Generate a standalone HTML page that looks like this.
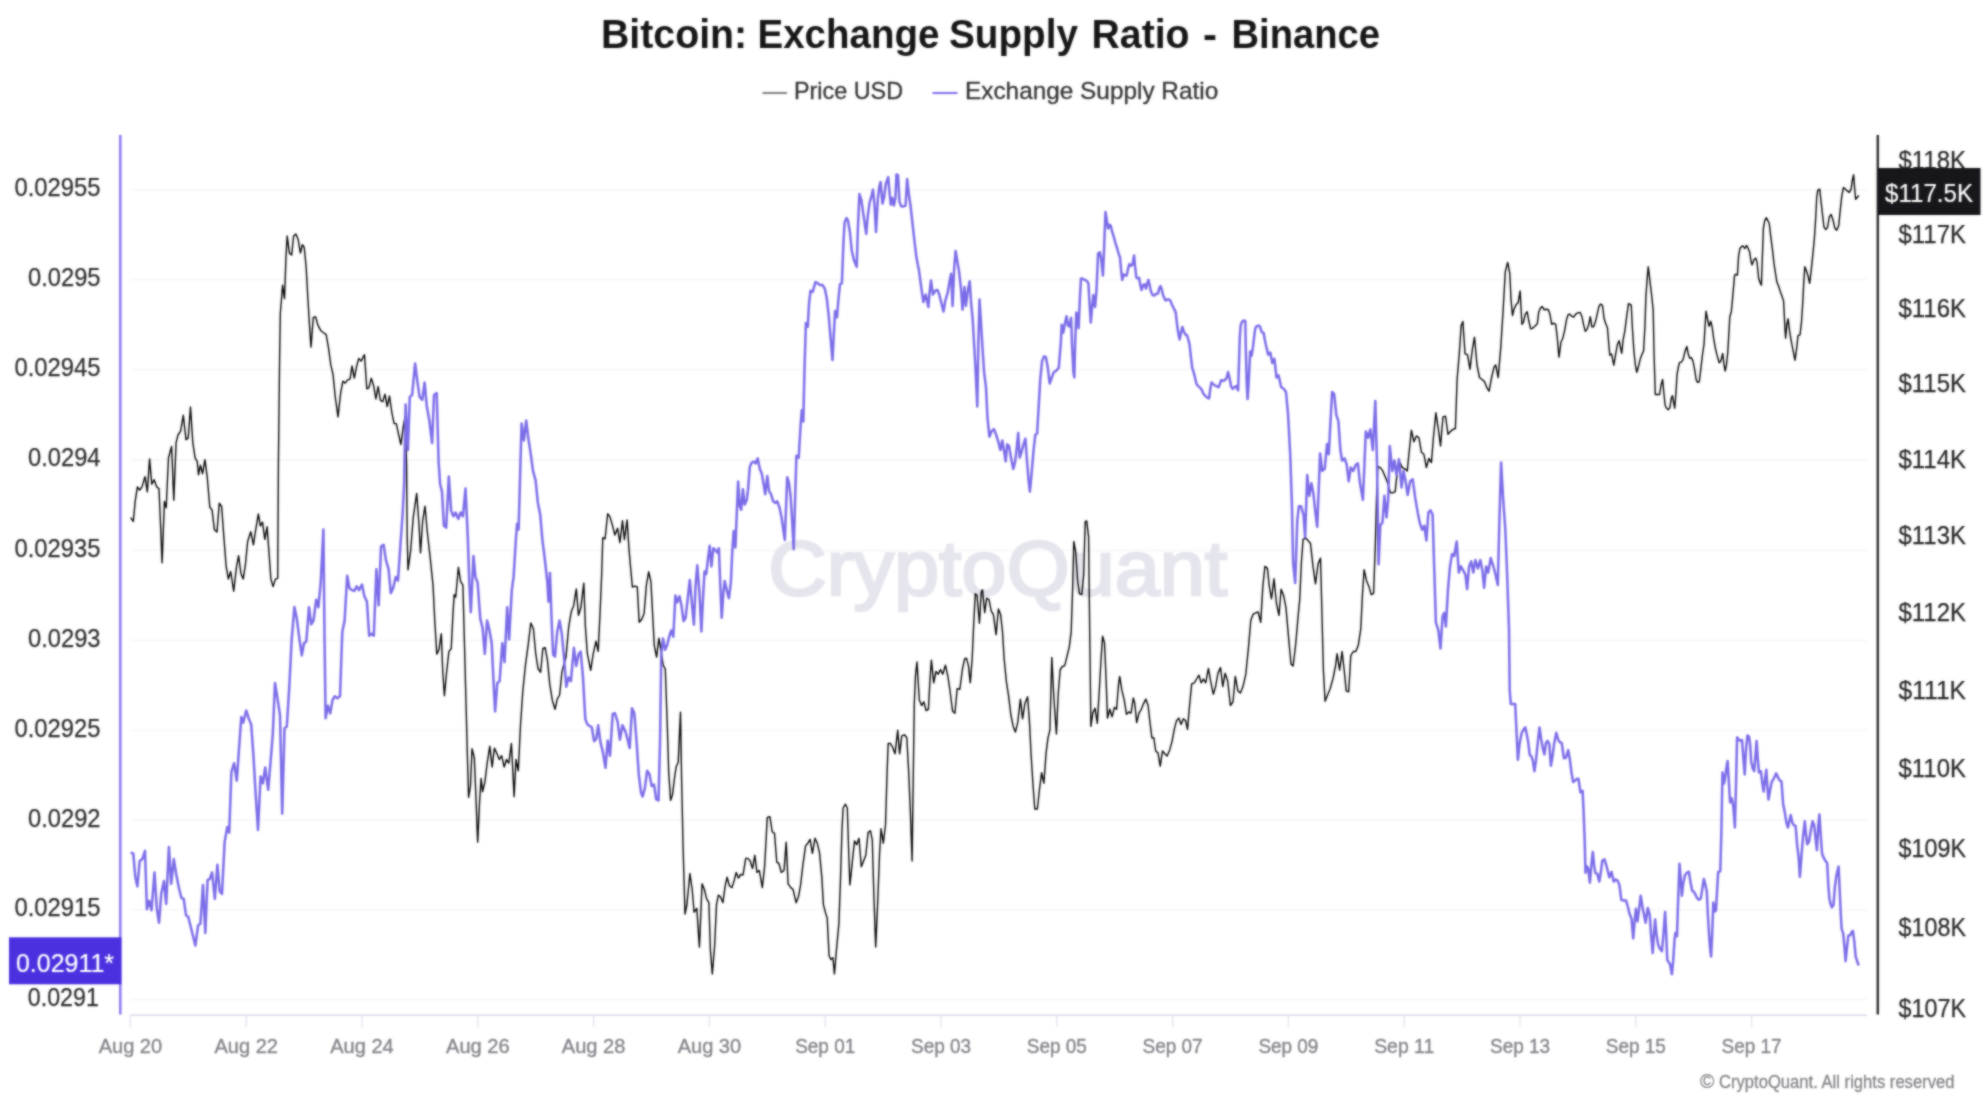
<!DOCTYPE html>
<html><head><meta charset="utf-8"><title>Bitcoin: Exchange Supply Ratio - Binance</title>
<style>
html,body{margin:0;padding:0;background:#fff;}
body{width:1986px;height:1108px;overflow:hidden;font-family:"Liberation Sans",sans-serif;}
svg{display:block;position:absolute;left:0;top:0;}
text{font-family:"Liberation Sans",sans-serif;}
</style></head><body>
<svg width="1986" height="1108" viewBox="0 0 1986 1108">
<defs><filter id="soft" filterUnits="userSpaceOnUse" x="0" y="0" width="1986" height="1108" color-interpolation-filters="sRGB"><feGaussianBlur stdDeviation="0.9" result="b"/><feComposite in="SourceGraphic" in2="b" operator="arithmetic" k1="0" k2="0.3" k3="0.7" k4="0"/></filter></defs>
<rect width="1986" height="1108" fill="#fff"/>
<g filter="url(#soft)">
<rect width="1986" height="1108" fill="#fff"/>

<text x="601.0" y="48.1" font-size="40.6" font-weight="bold" fill="#161616" textLength="146.2" lengthAdjust="spacingAndGlyphs">Bitcoin:</text>
<text x="757.5" y="48.1" font-size="40.6" font-weight="bold" fill="#161616" textLength="182.0" lengthAdjust="spacingAndGlyphs">Exchange</text>
<text x="949.0" y="48.1" font-size="40.6" font-weight="bold" fill="#161616" textLength="129.0" lengthAdjust="spacingAndGlyphs">Supply</text>
<text x="1091.5" y="48.1" font-size="40.6" font-weight="bold" fill="#161616" textLength="98.1" lengthAdjust="spacingAndGlyphs">Ratio</text>
<text x="1203.0" y="48.1" font-size="40.6" font-weight="bold" fill="#161616" textLength="14.0" lengthAdjust="spacingAndGlyphs">-</text>
<text x="1231.5" y="48.1" font-size="40.6" font-weight="bold" fill="#161616" textLength="148.6" lengthAdjust="spacingAndGlyphs">Binance</text>
<line x1="762.5" y1="93" x2="787" y2="93" stroke="#555" stroke-width="1.5"/>
<text x="794" y="99.1" font-size="24.5" fill="#333" stroke="#333" stroke-width="0.3" textLength="109" lengthAdjust="spacingAndGlyphs">Price USD</text>
<line x1="932.5" y1="93" x2="957.5" y2="93" stroke="#7b6cf0" stroke-width="2"/>
<text x="965" y="99.1" font-size="24.5" fill="#333" stroke="#333" stroke-width="0.3" textLength="253.2" lengthAdjust="spacingAndGlyphs">Exchange Supply Ratio</text>
<line x1="130" y1="189.7" x2="1867" y2="189.7" stroke="#f5f5f7" stroke-width="1.4"/>
<line x1="130" y1="279.6" x2="1867" y2="279.6" stroke="#f5f5f7" stroke-width="1.4"/>
<line x1="130" y1="369.6" x2="1867" y2="369.6" stroke="#f5f5f7" stroke-width="1.4"/>
<line x1="130" y1="460.0" x2="1867" y2="460.0" stroke="#f5f5f7" stroke-width="1.4"/>
<line x1="130" y1="550.4" x2="1867" y2="550.4" stroke="#f5f5f7" stroke-width="1.4"/>
<line x1="130" y1="640.4" x2="1867" y2="640.4" stroke="#f5f5f7" stroke-width="1.4"/>
<line x1="130" y1="730.4" x2="1867" y2="730.4" stroke="#f5f5f7" stroke-width="1.4"/>
<line x1="130" y1="820.3" x2="1867" y2="820.3" stroke="#f5f5f7" stroke-width="1.4"/>
<line x1="130" y1="909.9" x2="1867" y2="909.9" stroke="#f5f5f7" stroke-width="1.4"/>
<line x1="130" y1="999.6" x2="1867" y2="999.6" stroke="#f5f5f7" stroke-width="1.4"/>
<text x="997.7" y="594.5" font-size="77" fill="#e5e5ed" stroke="#e5e5ed" stroke-width="2.6" text-anchor="middle" textLength="459" lengthAdjust="spacingAndGlyphs">CryptoQuant</text>
<line x1="130" y1="1015.3" x2="1867" y2="1015.3" stroke="#d9d8ee" stroke-width="1.6"/>
<line x1="130.4" y1="1015" x2="130.4" y2="1027" stroke="#e2e2ee" stroke-width="1.3"/>
<text x="130.4" y="1052.6" font-size="21" fill="#85858c" stroke="#85858c" stroke-width="0.4" text-anchor="middle" textLength="63.5" lengthAdjust="spacingAndGlyphs">Aug 20</text>
<line x1="246.2" y1="1015" x2="246.2" y2="1027" stroke="#e2e2ee" stroke-width="1.3"/>
<text x="246.2" y="1052.6" font-size="21" fill="#85858c" stroke="#85858c" stroke-width="0.4" text-anchor="middle" textLength="63.5" lengthAdjust="spacingAndGlyphs">Aug 22</text>
<line x1="362.0" y1="1015" x2="362.0" y2="1027" stroke="#e2e2ee" stroke-width="1.3"/>
<text x="362.0" y="1052.6" font-size="21" fill="#85858c" stroke="#85858c" stroke-width="0.4" text-anchor="middle" textLength="63.5" lengthAdjust="spacingAndGlyphs">Aug 24</text>
<line x1="477.8" y1="1015" x2="477.8" y2="1027" stroke="#e2e2ee" stroke-width="1.3"/>
<text x="477.8" y="1052.6" font-size="21" fill="#85858c" stroke="#85858c" stroke-width="0.4" text-anchor="middle" textLength="63.5" lengthAdjust="spacingAndGlyphs">Aug 26</text>
<line x1="593.6" y1="1015" x2="593.6" y2="1027" stroke="#e2e2ee" stroke-width="1.3"/>
<text x="593.6" y="1052.6" font-size="21" fill="#85858c" stroke="#85858c" stroke-width="0.4" text-anchor="middle" textLength="63.5" lengthAdjust="spacingAndGlyphs">Aug 28</text>
<line x1="709.4" y1="1015" x2="709.4" y2="1027" stroke="#e2e2ee" stroke-width="1.3"/>
<text x="709.4" y="1052.6" font-size="21" fill="#85858c" stroke="#85858c" stroke-width="0.4" text-anchor="middle" textLength="63.5" lengthAdjust="spacingAndGlyphs">Aug 30</text>
<line x1="825.2" y1="1015" x2="825.2" y2="1027" stroke="#e2e2ee" stroke-width="1.3"/>
<text x="825.2" y="1052.6" font-size="21" fill="#85858c" stroke="#85858c" stroke-width="0.4" text-anchor="middle" textLength="60" lengthAdjust="spacingAndGlyphs">Sep 01</text>
<line x1="941.0" y1="1015" x2="941.0" y2="1027" stroke="#e2e2ee" stroke-width="1.3"/>
<text x="941.0" y="1052.6" font-size="21" fill="#85858c" stroke="#85858c" stroke-width="0.4" text-anchor="middle" textLength="60" lengthAdjust="spacingAndGlyphs">Sep 03</text>
<line x1="1056.8" y1="1015" x2="1056.8" y2="1027" stroke="#e2e2ee" stroke-width="1.3"/>
<text x="1056.8" y="1052.6" font-size="21" fill="#85858c" stroke="#85858c" stroke-width="0.4" text-anchor="middle" textLength="60" lengthAdjust="spacingAndGlyphs">Sep 05</text>
<line x1="1172.6" y1="1015" x2="1172.6" y2="1027" stroke="#e2e2ee" stroke-width="1.3"/>
<text x="1172.6" y="1052.6" font-size="21" fill="#85858c" stroke="#85858c" stroke-width="0.4" text-anchor="middle" textLength="60" lengthAdjust="spacingAndGlyphs">Sep 07</text>
<line x1="1288.4" y1="1015" x2="1288.4" y2="1027" stroke="#e2e2ee" stroke-width="1.3"/>
<text x="1288.4" y="1052.6" font-size="21" fill="#85858c" stroke="#85858c" stroke-width="0.4" text-anchor="middle" textLength="60" lengthAdjust="spacingAndGlyphs">Sep 09</text>
<line x1="1404.2" y1="1015" x2="1404.2" y2="1027" stroke="#e2e2ee" stroke-width="1.3"/>
<text x="1404.2" y="1052.6" font-size="21" fill="#85858c" stroke="#85858c" stroke-width="0.4" text-anchor="middle" textLength="60" lengthAdjust="spacingAndGlyphs">Sep 11</text>
<line x1="1520.0" y1="1015" x2="1520.0" y2="1027" stroke="#e2e2ee" stroke-width="1.3"/>
<text x="1520.0" y="1052.6" font-size="21" fill="#85858c" stroke="#85858c" stroke-width="0.4" text-anchor="middle" textLength="60" lengthAdjust="spacingAndGlyphs">Sep 13</text>
<line x1="1635.8" y1="1015" x2="1635.8" y2="1027" stroke="#e2e2ee" stroke-width="1.3"/>
<text x="1635.8" y="1052.6" font-size="21" fill="#85858c" stroke="#85858c" stroke-width="0.4" text-anchor="middle" textLength="60" lengthAdjust="spacingAndGlyphs">Sep 15</text>
<line x1="1751.6" y1="1015" x2="1751.6" y2="1027" stroke="#e2e2ee" stroke-width="1.3"/>
<text x="1751.6" y="1052.6" font-size="21" fill="#85858c" stroke="#85858c" stroke-width="0.4" text-anchor="middle" textLength="60" lengthAdjust="spacingAndGlyphs">Sep 17</text>
<text x="100.5" y="195.9" font-size="26.2" fill="#2e2e2e" stroke="#2e2e2e" stroke-width="0.25" text-anchor="end" textLength="86" lengthAdjust="spacingAndGlyphs">0.02955</text>
<text x="100.5" y="285.8" font-size="26.2" fill="#2e2e2e" stroke="#2e2e2e" stroke-width="0.25" text-anchor="end" textLength="72.5" lengthAdjust="spacingAndGlyphs">0.0295</text>
<text x="100.5" y="375.8" font-size="26.2" fill="#2e2e2e" stroke="#2e2e2e" stroke-width="0.25" text-anchor="end" textLength="86" lengthAdjust="spacingAndGlyphs">0.02945</text>
<text x="100.5" y="466.2" font-size="26.2" fill="#2e2e2e" stroke="#2e2e2e" stroke-width="0.25" text-anchor="end" textLength="72.5" lengthAdjust="spacingAndGlyphs">0.0294</text>
<text x="100.5" y="556.6" font-size="26.2" fill="#2e2e2e" stroke="#2e2e2e" stroke-width="0.25" text-anchor="end" textLength="86" lengthAdjust="spacingAndGlyphs">0.02935</text>
<text x="100.5" y="646.7" font-size="26.2" fill="#2e2e2e" stroke="#2e2e2e" stroke-width="0.25" text-anchor="end" textLength="72.5" lengthAdjust="spacingAndGlyphs">0.0293</text>
<text x="100.5" y="736.7" font-size="26.2" fill="#2e2e2e" stroke="#2e2e2e" stroke-width="0.25" text-anchor="end" textLength="86" lengthAdjust="spacingAndGlyphs">0.02925</text>
<text x="100.5" y="826.6" font-size="26.2" fill="#2e2e2e" stroke="#2e2e2e" stroke-width="0.25" text-anchor="end" textLength="72.5" lengthAdjust="spacingAndGlyphs">0.0292</text>
<text x="100.5" y="916.2" font-size="26.2" fill="#2e2e2e" stroke="#2e2e2e" stroke-width="0.25" text-anchor="end" textLength="86" lengthAdjust="spacingAndGlyphs">0.02915</text>
<text x="98.8" y="1005.9" font-size="26.2" fill="#2e2e2e" stroke="#2e2e2e" stroke-width="0.25" text-anchor="end" textLength="71" lengthAdjust="spacingAndGlyphs">0.0291</text>
<text x="1898.5" y="168.7" font-size="25.5" fill="#282828" stroke="#282828" stroke-width="0.25" textLength="67.5" lengthAdjust="spacingAndGlyphs">$118K</text>
<text x="1898.5" y="242.5" font-size="25.5" fill="#282828" stroke="#282828" stroke-width="0.25" textLength="67.5" lengthAdjust="spacingAndGlyphs">$117K</text>
<text x="1898.5" y="316.9" font-size="25.5" fill="#282828" stroke="#282828" stroke-width="0.25" textLength="67.5" lengthAdjust="spacingAndGlyphs">$116K</text>
<text x="1898.5" y="391.9" font-size="25.5" fill="#282828" stroke="#282828" stroke-width="0.25" textLength="67.5" lengthAdjust="spacingAndGlyphs">$115K</text>
<text x="1898.5" y="467.7" font-size="25.5" fill="#282828" stroke="#282828" stroke-width="0.25" textLength="67.5" lengthAdjust="spacingAndGlyphs">$114K</text>
<text x="1898.5" y="544.0" font-size="25.5" fill="#282828" stroke="#282828" stroke-width="0.25" textLength="67.5" lengthAdjust="spacingAndGlyphs">$113K</text>
<text x="1898.5" y="621.1" font-size="25.5" fill="#282828" stroke="#282828" stroke-width="0.25" textLength="67.5" lengthAdjust="spacingAndGlyphs">$112K</text>
<text x="1898.5" y="698.8" font-size="25.5" fill="#282828" stroke="#282828" stroke-width="0.25" textLength="67.5" lengthAdjust="spacingAndGlyphs">$111K</text>
<text x="1898.5" y="777.3" font-size="25.5" fill="#282828" stroke="#282828" stroke-width="0.25" textLength="67.5" lengthAdjust="spacingAndGlyphs">$110K</text>
<text x="1898.5" y="856.5" font-size="25.5" fill="#282828" stroke="#282828" stroke-width="0.25" textLength="67.5" lengthAdjust="spacingAndGlyphs">$109K</text>
<text x="1898.5" y="936.4" font-size="25.5" fill="#282828" stroke="#282828" stroke-width="0.25" textLength="67.5" lengthAdjust="spacingAndGlyphs">$108K</text>
<text x="1898.5" y="1017.0" font-size="25.5" fill="#282828" stroke="#282828" stroke-width="0.25" textLength="67.5" lengthAdjust="spacingAndGlyphs">$107K</text>
<line x1="120.3" y1="135" x2="120.3" y2="1014.5" stroke="#8b7df2" stroke-width="2.6"/>
<line x1="1877.8" y1="135" x2="1877.8" y2="1014.5" stroke="#2a2a2e" stroke-width="2.4"/>
<path d="M130.6 517.7 L133.3 521.4 L135.2 501.4 L137.4 486.9 L139.7 490.0 L142.0 486.9 L145.0 476.7 L147.3 491.9 L149.6 458.9 L151.8 484.3 L154.1 479.7 L156.8 486.9 L159.0 488.8 L160.6 526.0 L162.1 562.8 L164.4 501.4 L166.2 507.8 L168.5 457.8 L171.6 446.4 L173.8 500.2 L176.1 442.6 L178.0 435.0 L180.6 431.2 L183.3 415.3 L186.0 439.6 L188.2 438.1 L190.5 407.0 L192.8 442.6 L195.1 457.8 L197.3 461.6 L198.5 474.8 L200.4 465.3 L202.6 473.7 L204.9 459.7 L207.2 476.7 L209.8 507.0 L212.1 510.1 L214.4 529.8 L217.0 532.1 L219.3 503.2 L221.6 506.3 L223.9 537.4 L226.1 565.8 L228.4 579.1 L230.7 571.5 L233.7 591.2 L236.4 567.7 L238.6 555.6 L240.9 573.4 L243.2 579.1 L245.5 563.9 L247.7 541.2 L250.8 531.7 L253.4 544.9 L255.7 529.8 L258.4 513.9 L260.3 526.0 L262.5 522.2 L264.8 539.3 L267.1 526.8 L269.0 552.5 L270.9 579.1 L273.1 586.6 L275.4 579.1 L277.7 578.3 L278.4 465.3 L279.6 359.2 L280.3 313.7 L282.6 285.3 L284.5 298.6 L286.0 256.9 L287.2 236.0 L289.4 253.1 L291.7 255.0 L293.6 236.0 L295.9 234.1 L298.2 239.8 L300.4 253.1 L302.3 244.7 L304.2 247.4 L306.1 266.3 L308.0 300.5 L309.5 325.1 L311.0 347.1 L313.3 317.5 L315.6 316.8 L317.9 325.1 L320.9 330.8 L323.6 332.7 L326.2 334.6 L328.5 347.8 L330.8 364.9 L333.0 374.4 L335.3 397.1 L338.0 416.8 L340.6 393.3 L342.9 381.2 L345.2 383.1 L347.4 380.1 L350.1 378.9 L352.0 366.0 L354.3 378.2 L356.5 366.8 L358.8 358.4 L361.1 361.1 L364.5 354.7 L366.8 388.8 L369.0 387.6 L371.3 378.2 L373.6 385.7 L375.9 399.0 L378.1 386.5 L380.4 400.1 L382.7 401.7 L385.0 394.1 L387.2 406.6 L389.5 396.0 L391.8 412.3 L394.1 423.6 L396.3 423.6 L398.6 434.3 L400.9 444.5 L403.2 427.4 L405.1 416.1 L406.6 465.3 L407.2 537.3 L408.0 569.9 L410.6 551.0 L413.3 516.9 L416.7 493.4 L419.0 524.4 L420.5 552.9 L422.7 520.6 L425.0 506.2 L427.3 532.0 L430.3 558.6 L433.0 585.1 L434.9 623.0 L436.8 654.1 L439.0 649.5 L441.3 633.6 L442.8 672.3 L444.4 695.8 L446.6 672.3 L448.9 651.4 L451.2 648.8 L453.1 611.6 L454.2 594.6 L455.7 597.2 L458.4 567.3 L460.6 581.3 L462.9 585.1 L464.4 641.9 L466.0 702.6 L467.5 759.5 L468.6 797.4 L470.5 786.0 L472.0 748.8 L474.3 757.6 L475.8 793.6 L477.7 842.1 L479.6 801.2 L481.1 778.4 L482.6 791.7 L484.9 782.2 L487.2 763.2 L489.8 746.2 L492.1 767.0 L494.4 748.1 L497.0 753.8 L499.3 759.5 L501.6 755.7 L504.2 767.0 L506.5 759.5 L508.8 763.2 L511.4 743.5 L513.0 774.6 L514.1 796.6 L516.0 759.5 L518.3 770.8 L520.5 725.3 L522.8 691.2 L525.5 664.7 L528.1 645.7 L530.8 623.0 L533.4 628.7 L535.7 653.3 L538.0 668.5 L540.6 672.3 L542.9 648.4 L545.2 647.6 L547.5 660.9 L549.7 683.6 L552.4 700.7 L555.0 709.4 L557.3 698.8 L559.6 695.0 L561.9 672.3 L563.8 664.7 L566.0 657.1 L568.7 626.8 L571.3 611.6 L573.6 605.9 L576.3 588.9 L578.5 615.4 L580.8 607.8 L583.8 583.2 L585.4 626.8 L587.3 653.3 L590.7 670.4 L593.3 653.3 L596.0 641.2 L598.2 651.4 L600.1 611.6 L601.7 573.7 L602.8 537.7 L605.1 538.8 L607.7 513.8 L610.0 516.9 L612.7 526.3 L614.9 535.1 L617.6 528.2 L619.9 542.6 L622.5 520.6 L624.4 539.6 L627.1 519.9 L629.0 549.1 L630.8 569.9 L632.4 587.0 L635.0 586.2 L637.3 587.0 L639.2 622.2 L641.8 619.2 L644.1 613.5 L646.4 585.1 L648.7 571.8 L650.9 581.3 L652.5 611.6 L654.3 645.7 L656.6 657.1 L658.9 638.2 L660.8 649.5 L663.1 664.7 L665.3 669.2 L667.2 722.7 L668.7 771.9 L670.6 800.4 L672.5 794.7 L674.8 775.7 L676.3 766.3 L678.2 762.5 L680.5 712.1 L681.6 779.5 L683.1 847.8 L685.0 914.1 L686.9 904.6 L689.9 873.5 L692.2 889.5 L694.1 912.2 L696.8 908.4 L699.4 947.1 L702.1 883.8 L704.4 889.5 L706.6 898.9 L708.9 902.7 L710.4 950.1 L712.3 974.0 L714.6 946.3 L716.5 904.6 L718.4 895.1 L720.6 897.0 L722.9 902.7 L725.2 885.7 L727.1 877.3 L729.4 885.7 L732.0 887.6 L734.3 880.0 L736.2 872.4 L738.5 878.1 L740.7 874.3 L743.0 875.1 L745.7 858.4 L747.9 858.4 L750.2 861.0 L752.5 868.6 L754.8 855.3 L757.0 872.4 L759.3 870.5 L762.3 887.6 L764.6 866.7 L767.3 817.4 L769.9 816.7 L772.2 831.8 L774.5 833.4 L776.8 862.2 L779.0 863.7 L781.3 872.4 L784.0 870.5 L786.2 842.1 L788.1 883.8 L790.8 887.6 L793.1 889.5 L796.1 902.7 L798.4 897.0 L800.6 884.9 L802.9 864.8 L805.6 845.9 L807.8 843.2 L810.1 839.4 L812.4 853.4 L815.0 838.3 L817.3 843.2 L819.6 853.4 L821.9 878.1 L823.4 904.6 L825.3 912.2 L827.2 917.9 L829.1 955.8 L831.0 959.6 L832.9 957.7 L834.4 974.0 L836.6 948.2 L838.9 923.6 L840.4 881.9 L841.9 832.6 L843.1 808.0 L845.4 804.2 L847.3 808.0 L848.8 855.3 L849.9 884.9 L852.2 862.9 L854.5 840.9 L856.7 844.7 L859.0 838.3 L861.3 866.7 L863.6 861.0 L865.8 855.3 L868.1 832.6 L870.4 830.7 L872.3 840.2 L873.8 893.2 L875.7 947.1 L877.6 904.6 L879.5 855.3 L881.0 828.8 L883.3 843.2 L885.5 825.0 L887.1 771.9 L888.2 743.5 L890.5 743.5 L892.7 747.3 L895.0 753.8 L897.7 730.3 L899.6 753.8 L901.8 735.9 L904.5 734.8 L906.8 737.8 L908.7 771.9 L910.6 817.4 L912.1 861.0 L913.2 779.5 L914.3 703.7 L915.5 675.3 L917.0 662.0 L919.3 699.9 L921.6 705.6 L923.8 701.8 L926.1 710.5 L928.4 709.4 L929.9 681.0 L931.4 660.1 L933.7 682.9 L936.0 671.5 L938.2 674.2 L940.5 669.6 L942.8 674.2 L945.4 665.1 L947.7 675.3 L950.0 690.5 L952.6 711.3 L954.9 713.2 L957.2 688.6 L959.8 689.3 L962.4 669.5 L964.6 658.9 L966.5 658.2 L968.4 665.7 L970.3 682.8 L972.2 658.2 L973.7 624.0 L975.3 593.7 L977.1 595.6 L979.4 623.3 L981.3 591.8 L982.5 589.9 L984.7 612.7 L986.6 598.3 L988.9 599.4 L991.2 610.8 L993.4 614.6 L996.1 634.7 L998.4 608.9 L1000.6 614.6 L1002.5 631.6 L1004.1 658.2 L1006.3 680.9 L1008.6 696.1 L1010.9 715.0 L1013.2 726.4 L1015.4 732.1 L1017.7 722.6 L1020.4 699.1 L1022.6 718.8 L1024.9 703.6 L1027.6 696.8 L1029.5 722.6 L1031.0 752.9 L1032.9 783.2 L1034.8 809.0 L1037.4 809.0 L1039.3 790.8 L1041.6 772.6 L1043.9 783.2 L1046.1 752.9 L1048.0 737.8 L1049.9 730.2 L1051.8 657.4 L1054.1 701.8 L1056.4 734.0 L1058.3 692.3 L1060.2 669.5 L1062.4 666.5 L1064.7 665.7 L1067.0 656.3 L1069.3 646.8 L1071.2 631.6 L1072.7 586.1 L1073.8 541.4 L1075.7 552.0 L1077.6 580.5 L1079.5 593.7 L1081.8 594.5 L1083.7 574.8 L1085.2 521.7 L1086.7 520.9 L1088.6 536.9 L1089.7 631.6 L1090.9 726.4 L1092.8 713.1 L1095.0 708.2 L1097.3 723.4 L1099.2 692.3 L1101.1 658.2 L1102.6 636.2 L1104.5 643.0 L1106.0 677.1 L1107.5 718.1 L1109.8 709.3 L1112.1 716.9 L1114.4 707.4 L1116.6 709.3 L1118.5 684.7 L1119.7 676.4 L1121.9 690.4 L1124.2 699.9 L1126.5 714.3 L1128.8 712.0 L1131.0 713.1 L1133.3 698.0 L1134.8 703.6 L1136.7 722.6 L1139.0 713.1 L1141.3 709.3 L1143.6 703.6 L1145.8 699.1 L1148.1 705.5 L1150.0 722.6 L1151.9 737.8 L1153.8 737.8 L1155.7 751.0 L1158.0 752.9 L1160.2 766.2 L1162.5 751.0 L1164.8 753.7 L1167.1 756.0 L1169.7 749.9 L1172.0 741.6 L1174.3 729.4 L1176.5 720.7 L1178.8 718.1 L1181.1 724.5 L1183.4 718.8 L1185.6 720.7 L1187.5 729.4 L1189.4 707.4 L1191.7 683.9 L1194.3 682.8 L1196.6 679.0 L1198.9 675.2 L1201.2 682.8 L1203.4 679.0 L1205.7 682.8 L1208.4 668.4 L1210.6 680.9 L1213.3 694.2 L1215.6 686.6 L1217.9 673.3 L1220.5 667.6 L1222.8 686.6 L1225.1 673.3 L1227.7 680.9 L1230.4 705.5 L1233.0 701.8 L1235.3 676.4 L1237.9 690.9 L1240.4 693.0 L1242.9 686.8 L1245.8 674.3 L1248.3 649.4 L1250.8 620.3 L1253.2 614.1 L1255.7 612.9 L1258.2 612.0 L1260.7 622.4 L1262.8 587.1 L1264.9 566.4 L1267.4 568.4 L1269.4 587.1 L1271.5 598.8 L1274.0 578.8 L1276.5 603.7 L1279.0 615.4 L1281.1 589.2 L1283.6 595.4 L1286.0 607.9 L1288.5 636.9 L1291.0 663.9 L1293.1 666.0 L1295.6 645.3 L1298.1 616.2 L1299.7 599.6 L1301.4 562.2 L1303.1 539.4 L1305.6 538.1 L1308.1 540.6 L1310.5 543.5 L1313.0 566.4 L1315.5 583.8 L1318.0 564.3 L1320.5 558.1 L1321.8 607.9 L1323.4 670.2 L1325.1 701.3 L1327.6 695.1 L1330.1 688.8 L1333.0 678.5 L1335.5 666.0 L1337.1 653.6 L1339.6 670.2 L1342.1 651.5 L1344.2 670.2 L1346.2 690.9 L1348.7 691.8 L1350.8 655.6 L1353.3 651.5 L1355.8 651.5 L1358.3 645.3 L1360.8 628.6 L1362.4 595.4 L1364.1 569.7 L1366.6 580.9 L1369.1 587.1 L1371.2 594.6 L1373.6 593.4 L1375.3 545.6 L1376.6 495.8 L1377.8 466.7 L1380.3 467.6 L1382.8 470.9 L1385.3 477.1 L1387.8 483.3 L1390.3 492.5 L1392.7 492.9 L1395.2 491.6 L1397.3 470.9 L1399.8 462.6 L1402.3 467.6 L1404.8 468.8 L1407.3 470.9 L1408.9 454.3 L1411.4 430.2 L1413.9 441.8 L1416.4 436.0 L1418.9 437.7 L1421.4 452.2 L1423.9 454.3 L1426.4 467.6 L1428.9 458.4 L1431.4 462.6 L1433.4 437.7 L1435.9 412.8 L1438.4 429.4 L1440.5 446.0 L1443.0 416.9 L1445.5 416.1 L1448.0 434.3 L1450.5 431.4 L1452.9 429.4 L1455.4 428.5 L1457.1 379.5 L1459.2 354.6 L1461.2 325.6 L1462.9 321.4 L1465.0 353.8 L1467.5 354.6 L1470.0 369.2 L1472.5 348.4 L1474.5 337.2 L1477.0 365.0 L1479.5 377.5 L1482.0 379.5 L1484.5 381.6 L1487.0 387.9 L1489.1 391.2 L1491.6 377.5 L1494.0 367.1 L1495.7 365.0 L1498.2 377.5 L1500.7 348.4 L1503.2 309.0 L1505.3 271.6 L1507.7 262.5 L1509.8 273.7 L1511.0 299.1 L1512.5 315.5 L1514.0 309.2 L1516.1 304.6 L1518.1 302.8 L1520.1 291.0 L1521.9 324.3 L1523.6 321.8 L1525.2 314.2 L1527.2 311.7 L1528.7 320.5 L1530.7 328.9 L1532.7 328.1 L1534.8 326.3 L1537.3 323.8 L1538.8 311.7 L1540.6 307.9 L1542.3 306.6 L1544.1 309.7 L1546.1 309.2 L1548.4 309.7 L1549.9 314.2 L1551.7 324.3 L1553.5 323.1 L1555.7 324.3 L1557.2 336.9 L1559.0 357.2 L1561.0 342.0 L1562.8 338.2 L1564.6 330.6 L1566.6 319.3 L1568.1 314.7 L1569.9 314.2 L1571.6 316.2 L1573.7 317.2 L1575.7 314.2 L1577.7 312.9 L1580.2 312.4 L1582.0 316.7 L1583.5 324.3 L1585.3 331.4 L1587.1 329.4 L1588.8 324.3 L1590.3 316.7 L1591.9 326.8 L1593.6 326.8 L1595.4 321.8 L1597.2 314.2 L1598.9 306.6 L1600.4 304.1 L1602.5 305.4 L1604.0 318.0 L1605.5 323.1 L1607.5 328.1 L1608.8 344.5 L1609.8 355.1 L1611.6 354.1 L1613.8 365.2 L1615.6 354.6 L1617.4 344.5 L1619.1 340.7 L1620.4 347.1 L1621.7 353.4 L1623.2 339.5 L1624.9 330.6 L1626.7 316.7 L1628.5 303.6 L1629.7 304.1 L1631.3 305.4 L1632.3 326.8 L1633.8 349.6 L1635.3 364.7 L1636.8 372.3 L1638.6 366.0 L1640.4 358.4 L1641.9 354.6 L1643.6 350.8 L1644.9 326.8 L1645.9 296.5 L1647.2 278.8 L1648.2 266.7 L1649.7 278.8 L1651.5 294.0 L1653.2 310.4 L1654.0 352.1 L1655.3 394.5 L1657.0 394.5 L1659.6 394.5 L1661.1 384.9 L1662.6 379.4 L1663.6 390.0 L1665.1 405.2 L1666.6 408.2 L1668.4 409.7 L1669.9 407.7 L1671.2 398.8 L1672.4 395.6 L1673.7 402.6 L1674.7 408.2 L1676.0 392.5 L1677.0 374.8 L1678.3 367.3 L1679.5 362.7 L1681.3 362.2 L1683.1 359.7 L1684.8 352.1 L1686.8 346.5 L1688.4 354.6 L1689.9 358.4 L1691.4 357.7 L1692.9 360.9 L1694.7 369.8 L1696.2 379.9 L1697.5 382.4 L1699.2 381.9 L1700.7 369.8 L1702.5 354.6 L1704.0 344.5 L1705.0 326.8 L1706.0 311.2 L1707.3 318.0 L1709.1 326.3 L1710.8 321.3 L1712.1 326.8 L1713.6 338.2 L1715.4 348.3 L1717.2 355.9 L1719.2 362.7 L1720.9 360.9 L1722.7 353.4 L1724.0 364.7 L1725.2 371.1 L1726.5 364.7 L1727.8 352.1 L1728.8 334.4 L1729.8 316.7 L1731.3 311.7 L1732.3 301.6 L1733.6 286.4 L1734.6 275.1 L1735.9 274.3 L1737.4 275.1 L1738.6 256.1 L1739.9 248.5 L1741.7 246.5 L1743.2 246.0 L1744.7 248.5 L1746.7 245.5 L1748.2 248.5 L1749.7 252.3 L1751.0 261.2 L1752.0 264.9 L1753.8 259.9 L1755.8 258.1 L1757.1 262.4 L1758.6 278.3 L1760.1 282.6 L1761.4 285.2 L1762.4 256.1 L1763.4 228.3 L1764.7 220.7 L1766.2 217.7 L1767.9 220.7 L1769.2 223.3 L1770.7 235.9 L1772.5 249.8 L1774.0 263.7 L1775.8 275.1 L1776.8 281.9 L1778.3 285.2 L1780.3 291.5 L1782.1 296.5 L1783.6 301.1 L1784.6 321.8 L1785.6 338.2 L1786.9 324.3 L1788.1 318.8 L1789.7 331.9 L1791.2 340.7 L1792.9 349.6 L1795.0 360.2 L1796.5 349.6 L1798.0 335.7 L1800.0 334.9 L1801.5 321.8 L1802.8 301.6 L1803.8 281.4 L1804.8 266.7 L1806.6 271.3 L1808.1 276.3 L1809.6 283.4 L1811.1 271.3 L1812.7 256.1 L1814.4 238.4 L1815.7 218.2 L1816.7 198.0 L1817.7 190.4 L1819.7 189.2 L1821.2 203.1 L1822.8 216.9 L1824.0 227.1 L1825.8 229.6 L1827.6 227.1 L1829.3 216.9 L1831.1 214.4 L1832.9 219.5 L1834.9 228.3 L1836.7 230.3 L1838.7 225.8 L1840.2 210.6 L1841.7 196.7 L1843.5 187.4 L1845.5 189.2 L1847.3 190.9 L1849.3 192.4 L1851.1 189.2 L1852.3 180.3 L1853.6 174.8 L1854.6 187.9 L1855.6 199.3 L1857.1 197.5 L1858.9 195.5" fill="none" stroke="#060606" stroke-width="1.4" stroke-linejoin="round"/>
<path d="M130.6 852.7 L133.3 853.4 L135.2 876.2 L137.4 886.4 L139.7 861.0 L142.4 859.1 L145.0 850.8 L146.9 909.2 L149.2 900.8 L151.5 910.3 L154.5 872.4 L156.8 908.4 L159.0 922.8 L161.3 893.2 L164.0 881.1 L166.2 903.9 L168.9 847.0 L171.2 883.8 L173.8 859.1 L176.1 873.5 L178.8 887.6 L181.4 897.8 L183.7 898.9 L186.0 915.2 L188.2 916.8 L190.9 927.4 L193.2 936.8 L195.4 945.6 L198.1 925.5 L200.4 923.6 L203.0 884.9 L205.3 933.0 L207.6 880.0 L209.8 878.8 L212.1 872.4 L214.8 898.9 L217.4 864.8 L219.7 891.4 L222.0 894.0 L224.6 842.1 L227.3 826.9 L229.2 832.6 L231.4 771.9 L234.1 763.2 L236.8 780.7 L239.0 749.2 L241.3 717.0 L243.2 722.7 L246.2 710.5 L248.9 718.9 L251.2 724.6 L253.4 754.9 L255.7 794.7 L258.0 829.9 L260.6 776.5 L262.9 783.3 L265.2 767.4 L268.2 789.8 L270.5 762.5 L272.8 734.0 L275.0 682.9 L277.7 699.9 L280.0 715.1 L282.2 813.6 L284.5 728.4 L286.8 726.5 L289.4 684.8 L291.7 639.3 L294.4 607.1 L296.8 618.6 L299.5 639.5 L301.8 655.4 L304.0 643.2 L306.3 641.4 L309.0 607.2 L311.2 624.3 L313.5 620.5 L316.2 599.7 L318.4 607.2 L320.7 582.6 L323.4 529.5 L324.5 635.7 L325.6 718.3 L327.9 705.8 L330.2 713.4 L332.5 700.1 L334.7 696.3 L337.4 698.2 L340.0 696.3 L342.3 631.9 L344.6 620.5 L347.2 575.8 L349.5 588.3 L352.2 590.2 L354.4 590.9 L356.7 586.4 L359.0 590.2 L362.0 584.5 L364.3 595.9 L366.9 601.6 L369.2 635.7 L371.5 633.8 L373.8 635.7 L376.4 569.3 L378.7 605.3 L381.0 546.6 L383.6 544.7 L385.9 559.9 L388.6 569.3 L390.8 593.2 L393.1 588.3 L395.8 576.9 L398.0 580.7 L400.3 546.6 L402.6 514.4 L404.1 484.0 L405.6 404.4 L407.9 449.9 L409.8 396.9 L412.1 395.0 L415.1 363.5 L417.4 381.7 L419.6 396.9 L422.3 399.9 L424.6 382.5 L426.8 406.3 L429.5 421.5 L432.1 443.1 L434.0 395.0 L436.7 393.1 L438.6 461.3 L440.1 484.0 L442.0 491.6 L443.9 525.7 L446.2 527.6 L448.8 476.5 L451.1 510.6 L453.4 516.3 L455.6 512.5 L458.3 518.9 L460.6 512.5 L462.9 516.3 L465.5 488.6 L467.8 537.1 L469.3 582.6 L470.8 612.2 L473.5 556.1 L475.4 576.9 L477.6 582.6 L480.3 618.6 L482.6 628.1 L484.8 653.9 L487.1 620.5 L489.4 630.0 L491.7 643.2 L493.9 688.7 L495.1 711.5 L497.3 683.0 L499.6 681.2 L502.3 643.2 L504.5 662.2 L507.2 607.2 L509.1 639.5 L511.8 590.2 L513.6 576.9 L515.9 539.0 L517.1 523.8 L518.6 529.5 L520.5 461.3 L521.6 423.4 L523.9 440.5 L526.2 420.4 L528.4 438.6 L530.7 453.7 L533.0 470.8 L535.6 480.3 L537.9 503.0 L540.2 514.4 L542.5 540.9 L544.7 558.0 L547.4 582.6 L548.5 601.6 L550.0 573.1 L551.6 620.5 L553.1 654.6 L555.0 656.5 L557.2 631.9 L559.5 620.5 L561.8 633.8 L564.1 658.4 L566.3 686.8 L568.6 677.4 L570.9 681.2 L573.9 647.8 L576.2 666.0 L578.5 654.6 L580.7 651.6 L583.0 677.4 L585.3 719.1 L587.6 724.7 L591.8 727.2 L594.1 741.3 L596.4 738.6 L598.2 725.3 L600.5 742.4 L602.8 751.9 L605.5 767.8 L607.7 740.5 L610.0 755.7 L612.7 714.0 L614.9 713.2 L617.6 721.6 L619.9 739.7 L622.5 725.3 L625.2 731.0 L627.4 738.6 L629.7 748.1 L632.0 708.3 L634.3 713.2 L636.5 740.5 L638.8 774.6 L641.1 792.8 L642.6 796.6 L644.9 787.9 L647.1 770.8 L649.4 773.9 L651.7 786.0 L654.0 784.5 L656.2 799.3 L658.5 800.4 L660.0 744.3 L661.3 653.8 L663.0 638.4 L665.1 649.7 L667.1 645.2 L669.2 636.7 L671.2 630.5 L673.3 636.7 L675.4 595.5 L677.1 602.4 L679.5 596.2 L681.5 605.8 L683.6 621.2 L685.6 617.8 L687.7 598.9 L689.8 580.1 L691.8 602.4 L693.9 624.7 L695.6 585.2 L697.3 565.3 L699.4 592.1 L701.4 631.5 L702.8 602.4 L704.5 571.5 L706.2 574.2 L707.9 559.5 L709.7 545.8 L711.4 566.4 L713.4 548.2 L715.5 550.2 L717.5 552.6 L718.9 548.2 L720.3 585.2 L721.7 617.8 L723.4 592.1 L724.7 581.1 L726.8 590.4 L728.9 598.3 L730.9 581.8 L732.3 550.9 L733.7 531.0 L735.4 547.5 L736.8 513.2 L738.1 481.6 L739.8 506.3 L741.2 509.8 L742.9 489.2 L744.6 504.6 L746.7 500.2 L748.1 489.2 L749.8 466.9 L751.5 462.8 L753.9 461.7 L755.6 463.5 L757.7 458.3 L759.7 468.6 L761.8 473.7 L763.9 485.8 L765.2 494.3 L767.3 476.1 L769.0 490.9 L771.1 494.3 L773.1 501.2 L775.2 502.9 L777.2 501.2 L779.6 508.0 L781.7 518.3 L783.4 530.3 L784.8 539.9 L786.1 506.3 L787.2 477.2 L788.9 482.3 L790.6 496.0 L792.3 523.5 L793.7 549.2 L795.3 493.6 L796.4 455.7 L798.7 457.6 L800.6 425.3 L801.8 410.2 L803.3 421.6 L804.4 372.3 L805.9 323.0 L807.8 326.8 L809.0 304.0 L810.5 290.8 L812.7 291.9 L815.4 282.1 L817.7 283.2 L819.9 285.1 L822.6 285.1 L824.9 288.9 L826.8 298.4 L828.7 315.4 L830.6 338.2 L832.5 360.1 L834.0 330.6 L835.1 310.9 L837.0 317.3 L838.5 298.4 L840.0 284.3 L841.9 283.2 L843.4 243.4 L844.6 222.5 L846.5 218.0 L848.0 220.6 L849.9 232.0 L851.8 251.0 L854.1 260.5 L856.7 266.9 L857.9 228.2 L859.4 194.1 L861.3 199.8 L863.2 213.1 L865.1 226.3 L866.2 233.9 L867.7 216.9 L869.6 202.5 L871.5 196.0 L873.0 189.6 L874.5 205.5 L876.0 232.0 L877.9 197.9 L879.5 185.8 L880.6 182.0 L882.5 203.6 L884.0 197.9 L885.9 183.5 L888.2 177.1 L889.7 194.1 L890.8 204.7 L892.3 197.9 L893.9 205.5 L895.4 197.9 L896.5 174.4 L898.0 175.2 L899.5 201.7 L901.1 206.2 L903.0 206.6 L905.6 205.5 L907.1 179.0 L908.6 192.2 L910.5 205.5 L912.4 222.5 L914.3 239.6 L916.6 258.6 L918.9 269.9 L921.2 287.0 L923.4 302.1 L925.7 294.6 L928.4 307.1 L929.5 292.7 L931.0 280.5 L932.9 294.6 L935.2 290.8 L937.5 290.0 L939.3 294.6 L941.6 304.0 L943.5 311.6 L945.4 300.3 L947.7 292.7 L949.6 281.3 L951.1 273.7 L952.6 305.9 L954.1 269.9 L955.6 251.0 L957.2 260.5 L959.1 271.8 L961.0 288.9 L962.5 309.7 L964.4 287.0 L965.9 305.9 L967.8 290.8 L969.7 281.3 L971.2 304.0 L972.7 319.2 L974.2 345.7 L975.7 372.3 L977.3 406.4 L978.4 341.9 L979.5 299.5 L981.0 323.0 L982.6 349.5 L984.1 372.3 L986.0 387.4 L987.5 417.8 L989.4 436.7 L991.7 431.0 L993.9 429.1 L996.2 434.8 L998.5 442.4 L1000.4 450.0 L1002.3 440.5 L1004.2 451.9 L1005.7 461.4 L1007.2 444.3 L1009.1 446.2 L1011.0 457.6 L1013.3 468.9 L1015.2 461.4 L1016.7 448.1 L1018.2 432.9 L1019.7 457.6 L1021.6 451.9 L1023.5 444.3 L1025.4 438.6 L1026.9 459.5 L1028.4 478.4 L1029.9 491.7 L1031.5 474.6 L1033.4 451.9 L1035.3 434.8 L1037.1 433.7 L1038.7 406.4 L1040.2 379.9 L1042.1 360.9 L1044.0 356.4 L1045.9 357.1 L1047.8 367.7 L1049.7 383.6 L1051.6 378.0 L1053.8 372.3 L1056.5 370.4 L1058.8 367.7 L1060.9 341.7 L1061.7 324.8 L1063.3 332.6 L1064.8 324.3 L1066.5 316.3 L1068.0 325.4 L1069.5 326.5 L1071.1 317.8 L1072.1 346.0 L1073.4 372.0 L1074.3 377.4 L1075.2 341.7 L1076.3 312.4 L1077.3 314.6 L1078.6 328.2 L1079.9 298.3 L1081.0 278.4 L1082.8 278.8 L1084.7 279.9 L1086.4 280.6 L1088.4 283.2 L1089.5 302.7 L1090.8 322.6 L1092.1 307.0 L1093.4 295.1 L1095.1 307.0 L1096.4 291.8 L1097.3 272.3 L1098.1 253.3 L1099.9 252.4 L1101.2 259.3 L1102.9 275.6 L1104.0 250.7 L1104.9 226.8 L1105.5 212.1 L1106.8 220.3 L1108.1 228.6 L1109.4 224.7 L1110.7 225.8 L1112.0 231.2 L1113.7 236.6 L1115.5 243.1 L1117.2 248.5 L1118.7 253.9 L1120.0 257.2 L1121.1 270.2 L1122.2 279.9 L1123.7 274.5 L1125.2 275.6 L1126.7 275.6 L1128.0 269.1 L1129.3 264.1 L1130.9 265.8 L1132.4 264.8 L1134.1 255.4 L1135.0 265.8 L1136.3 277.1 L1137.6 278.4 L1139.1 277.8 L1140.2 284.3 L1141.5 290.1 L1143.0 285.3 L1144.5 284.3 L1146.0 288.6 L1147.3 283.2 L1148.4 279.9 L1149.7 285.3 L1151.0 291.8 L1152.7 295.1 L1154.3 295.5 L1156.0 294.0 L1157.9 293.6 L1159.2 288.6 L1160.5 286.0 L1161.8 289.7 L1163.1 295.1 L1164.4 298.3 L1165.7 300.5 L1167.5 299.4 L1169.0 299.4 L1170.5 300.9 L1171.8 304.4 L1173.1 307.0 L1174.4 309.6 L1175.7 312.4 L1176.8 322.2 L1177.9 330.8 L1179.6 339.5 L1180.9 333.0 L1182.4 326.9 L1183.9 331.9 L1185.5 334.7 L1187.0 335.2 L1188.3 339.5 L1189.6 344.9 L1190.9 356.8 L1192.2 367.7 L1193.9 373.1 L1195.2 378.5 L1196.5 383.9 L1198.2 386.1 L1200.0 387.6 L1201.7 389.8 L1203.4 393.7 L1205.2 395.9 L1207.3 397.6 L1209.1 398.5 L1210.2 389.3 L1211.5 382.4 L1213.0 383.9 L1214.7 385.4 L1216.4 386.1 L1218.6 387.2 L1219.9 383.9 L1221.2 380.2 L1222.9 380.7 L1224.7 380.2 L1226.4 378.5 L1228.1 372.0 L1229.7 378.5 L1231.0 386.1 L1232.7 388.9 L1234.4 387.2 L1236.2 386.1 L1238.1 390.4 L1239.0 363.3 L1239.8 337.3 L1240.7 325.4 L1242.0 321.7 L1243.7 320.4 L1245.3 321.1 L1245.9 352.5 L1246.8 385.0 L1247.6 399.1 L1248.5 385.0 L1249.4 367.7 L1250.2 351.4 L1251.5 355.8 L1252.8 348.2 L1254.1 337.3 L1255.2 328.7 L1256.7 326.1 L1258.5 325.6 L1260.0 326.5 L1261.6 331.8 L1263.6 333.1 L1265.7 344.3 L1268.2 354.6 L1270.3 352.6 L1272.3 362.9 L1274.4 358.8 L1276.5 377.5 L1278.6 375.4 L1281.1 387.0 L1283.6 388.7 L1286.0 392.0 L1288.1 414.8 L1290.2 454.3 L1291.9 504.1 L1293.1 562.2 L1295.2 583.0 L1297.3 520.7 L1298.9 506.2 L1301.0 506.2 L1303.5 514.5 L1305.1 537.3 L1307.2 475.0 L1309.3 495.8 L1311.4 483.3 L1313.4 493.7 L1315.5 513.2 L1317.2 526.9 L1318.8 487.5 L1320.1 453.4 L1322.2 470.9 L1324.7 468.8 L1327.1 443.9 L1328.8 454.3 L1330.5 421.1 L1332.1 392.0 L1334.2 394.1 L1336.3 414.8 L1338.4 421.1 L1340.4 450.1 L1342.1 460.5 L1344.6 458.4 L1346.7 464.7 L1348.7 481.3 L1350.8 467.6 L1353.3 470.9 L1355.8 464.7 L1357.9 463.4 L1359.9 482.5 L1362.9 499.9 L1364.5 462.6 L1365.8 431.4 L1368.2 437.7 L1370.3 429.4 L1372.8 450.1 L1375.3 401.1 L1377.0 462.6 L1378.6 564.3 L1380.3 524.9 L1382.4 522.8 L1384.4 495.8 L1386.5 517.4 L1388.2 499.9 L1389.8 446.0 L1392.3 470.9 L1394.4 460.5 L1396.5 475.0 L1399.0 459.3 L1401.5 487.5 L1403.5 470.9 L1405.6 481.3 L1407.7 495.0 L1410.2 481.3 L1412.7 479.2 L1415.2 497.9 L1417.7 512.4 L1420.1 524.0 L1422.2 529.8 L1424.3 525.7 L1426.4 540.6 L1428.4 512.4 L1430.5 510.3 L1432.6 514.5 L1434.3 570.5 L1435.9 622.4 L1438.4 630.7 L1440.5 648.6 L1442.6 616.2 L1444.2 612.9 L1445.9 626.6 L1448.0 589.2 L1450.0 566.4 L1452.1 553.9 L1454.2 556.0 L1456.7 541.5 L1458.8 572.6 L1460.8 566.4 L1463.3 570.5 L1465.4 574.7 L1467.1 589.2 L1469.1 566.4 L1471.2 561.4 L1473.3 572.6 L1475.4 560.1 L1477.9 568.4 L1480.3 560.1 L1482.4 570.5 L1484.1 588.0 L1486.2 566.4 L1488.2 572.6 L1490.7 558.1 L1492.8 564.3 L1495.3 573.8 L1497.8 585.1 L1499.4 520.7 L1501.1 462.6 L1503.2 499.9 L1505.3 529.0 L1507.3 578.8 L1509.0 628.6 L1509.7 690.0 L1510.8 704.1 L1513.0 704.1 L1515.2 704.1 L1516.2 725.2 L1517.9 759.8 L1519.5 744.1 L1521.7 732.8 L1523.8 729.2 L1525.4 727.4 L1527.1 736.0 L1528.1 741.4 L1529.8 755.0 L1531.4 756.3 L1532.8 760.4 L1534.4 771.2 L1536.0 760.4 L1537.9 741.4 L1539.5 727.4 L1541.1 738.7 L1542.8 748.2 L1544.4 754.4 L1546.0 742.8 L1547.6 740.9 L1549.3 744.1 L1550.9 765.8 L1552.5 756.3 L1554.1 744.1 L1556.3 732.8 L1557.9 738.7 L1559.5 742.0 L1561.7 742.8 L1563.9 758.2 L1566.0 757.7 L1568.2 750.1 L1569.8 759.0 L1571.5 772.6 L1573.1 782.0 L1575.0 780.7 L1576.9 778.8 L1578.5 778.8 L1580.4 792.3 L1582.6 790.7 L1583.6 811.8 L1584.7 841.6 L1585.5 872.7 L1586.6 865.9 L1588.2 868.6 L1589.9 882.7 L1591.5 863.2 L1592.8 851.9 L1594.2 865.9 L1595.3 872.7 L1597.4 874.1 L1599.3 881.6 L1601.0 871.3 L1602.3 860.5 L1604.5 859.4 L1606.1 864.6 L1607.7 870.8 L1609.3 877.3 L1611.5 871.9 L1613.7 881.6 L1615.8 879.5 L1617.7 880.8 L1619.4 884.9 L1621.3 899.8 L1623.4 900.6 L1626.1 900.6 L1627.8 906.5 L1629.4 913.3 L1631.5 918.7 L1633.2 938.5 L1634.5 922.8 L1635.9 908.7 L1637.5 921.4 L1639.1 909.2 L1640.7 895.7 L1642.4 906.5 L1644.0 914.7 L1645.6 922.8 L1647.8 907.9 L1649.7 914.7 L1651.0 933.6 L1652.7 953.1 L1654.0 933.6 L1655.1 919.5 L1656.4 933.6 L1658.1 944.4 L1659.7 948.5 L1661.9 951.2 L1663.5 933.6 L1665.1 911.9 L1666.2 933.6 L1667.3 960.1 L1668.6 962.0 L1670.2 964.7 L1671.9 974.2 L1673.2 960.7 L1674.6 939.0 L1675.4 933.1 L1677.0 936.3 L1678.1 901.1 L1679.5 863.8 L1680.8 879.5 L1681.9 895.7 L1683.2 883.5 L1684.9 875.4 L1686.8 872.7 L1688.9 871.9 L1690.5 882.2 L1692.2 890.8 L1693.8 891.6 L1695.4 894.4 L1697.0 897.9 L1698.9 899.8 L1700.8 898.4 L1702.5 887.6 L1703.8 878.9 L1705.4 884.9 L1706.8 891.6 L1707.9 914.7 L1709.0 933.6 L1710.0 947.1 L1711.1 956.6 L1712.2 933.6 L1713.3 902.5 L1714.9 911.4 L1716.0 910.6 L1717.1 890.3 L1718.2 871.9 L1720.3 871.3 L1721.4 830.7 L1722.5 772.6 L1724.1 783.4 L1725.2 776.6 L1726.5 767.1 L1727.6 760.9 L1728.7 779.3 L1730.1 802.3 L1731.7 798.3 L1733.3 806.4 L1734.9 827.5 L1736.0 784.7 L1737.1 737.4 L1738.7 739.3 L1740.4 740.9 L1742.0 740.1 L1743.1 755.0 L1744.7 774.4 L1745.8 752.3 L1747.4 735.5 L1749.0 736.6 L1750.1 744.1 L1751.2 761.7 L1752.8 768.5 L1754.2 771.2 L1755.5 755.0 L1756.6 740.9 L1757.7 757.7 L1759.0 772.6 L1760.9 771.2 L1762.0 780.7 L1763.6 791.5 L1765.0 779.3 L1766.3 769.8 L1767.4 787.4 L1768.5 799.6 L1770.1 790.1 L1771.7 782.0 L1773.4 779.3 L1776.1 773.4 L1777.7 776.6 L1779.3 779.9 L1781.5 781.5 L1783.1 803.7 L1784.7 811.8 L1786.4 822.6 L1788.0 827.5 L1789.6 819.9 L1790.7 815.0 L1792.3 822.6 L1793.9 825.3 L1795.6 825.9 L1797.2 845.6 L1798.8 859.2 L1799.9 876.8 L1801.5 855.1 L1803.1 836.2 L1804.8 821.3 L1805.9 833.5 L1807.2 844.3 L1809.1 841.6 L1810.7 830.7 L1812.6 821.3 L1814.2 825.3 L1815.6 838.9 L1816.9 850.2 L1818.3 825.3 L1819.4 814.5 L1820.7 834.8 L1822.1 853.8 L1824.0 858.4 L1825.6 861.1 L1827.2 863.2 L1828.3 884.9 L1829.4 898.4 L1830.5 903.8 L1831.8 907.3 L1833.5 905.2 L1834.8 887.6 L1836.2 876.8 L1837.5 870.8 L1838.6 866.5 L1839.7 890.3 L1840.8 914.7 L1841.6 928.7 L1843.2 933.6 L1844.6 948.5 L1845.6 961.2 L1847.0 947.1 L1848.3 935.8 L1850.2 935.2 L1851.6 932.2 L1852.9 930.9 L1854.3 941.7 L1855.7 956.6 L1857.0 960.7 L1858.6 965.5" fill="none" stroke="#7a6ce8" stroke-width="2.5" stroke-linejoin="round"/>
<rect x="1878" y="168" width="102.5" height="47" fill="#17171b"/>
<text x="1885" y="202" font-size="26.5" fill="#fff" stroke="#fff" stroke-width="0.2" textLength="88" lengthAdjust="spacingAndGlyphs">$117.5K</text>
<rect x="9" y="937.3" width="112.5" height="47" fill="#4a31e0"/>
<text x="16" y="972" font-size="26" fill="#fff" stroke="#fff" stroke-width="0.2" textLength="98" lengthAdjust="spacingAndGlyphs">0.02911*</text>
<text x="1700" y="1088.2" font-size="19.5" fill="#85858a" stroke="#85858a" stroke-width="0.3">©</text>
<text x="1719" y="1087.5" font-size="17.6" fill="#85858a" stroke="#85858a" stroke-width="0.3" textLength="235.5" lengthAdjust="spacingAndGlyphs">CryptoQuant. All rights reserved</text>
</g></svg></body></html>
